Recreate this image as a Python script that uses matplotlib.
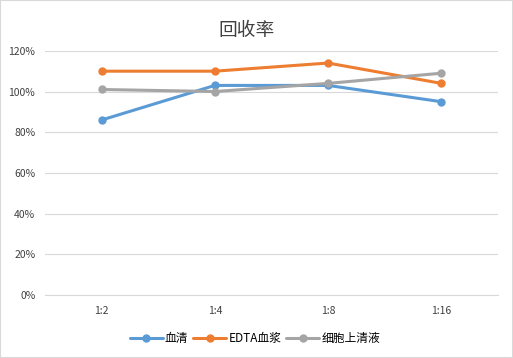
import matplotlib
matplotlib.use("Agg")
import matplotlib.pyplot as plt
from matplotlib.ticker import FuncFormatter
from matplotlib.patches import Rectangle

plt.rcParams['font.family'] = ['Noto Sans CJK SC', 'DejaVu Sans']

# data
categories = ['1:2', '1:4', '1:8', '1:16']
serum = [86, 103, 103, 95]
edta_plasma = [110, 110, 114, 104]
supernatant = [101, 100, 104, 109]
series_names = ['血清', 'EDTA血浆', '细胞上清液']
colors = ['#5B9BD5', '#ED7D31', '#A5A5A5']

fig = plt.figure(figsize=(5.13, 3.58), dpi=100)
ax = fig.add_axes([0.0877, 0.176, 0.883, 0.682])

x = range(len(categories))
for vals, name, c in zip([serum, edta_plasma, supernatant], series_names, colors):
    ax.plot(x, vals, color=c, lw=2.2, marker='o', ms=5, label=name,
            solid_capstyle='round')

ax.set_xlim(-0.5, len(categories) - 0.5)
ax.set_ylim(0, 120)
ax.set_yticks(range(0, 121, 20))
ax.yaxis.set_major_formatter(FuncFormatter(lambda v, p: f'{int(v)}%'))
ax.set_xticks(list(x))
ax.set_xticklabels(categories)
ax.tick_params(length=0, labelsize=7.5, colors='#404040', pad=7)
ax.tick_params(axis='x', pad=8)
ax.grid(axis='y', color='#D9D9D9', lw=0.8)
ax.set_axisbelow(True)
for s in ['top', 'right', 'left']:
    ax.spines[s].set_visible(False)
ax.spines['bottom'].set_color('#D9D9D9')

fig.text(0.48, 0.915, '回收率', ha='center', va='center', fontsize=13.5, color='#404040')

fig.legend(loc='center', bbox_to_anchor=(0.497, 0.055), ncol=3, frameon=False,
           fontsize=8.5, handlelength=2.8, columnspacing=0.4, handletextpad=0.2)

fig.patches.append(Rectangle((0, 0), 1, 1, transform=fig.transFigure, fill=False,
                             edgecolor='#D9D9D9', lw=1.5))

fig.savefig('out.png', dpi=100, facecolor='white')
